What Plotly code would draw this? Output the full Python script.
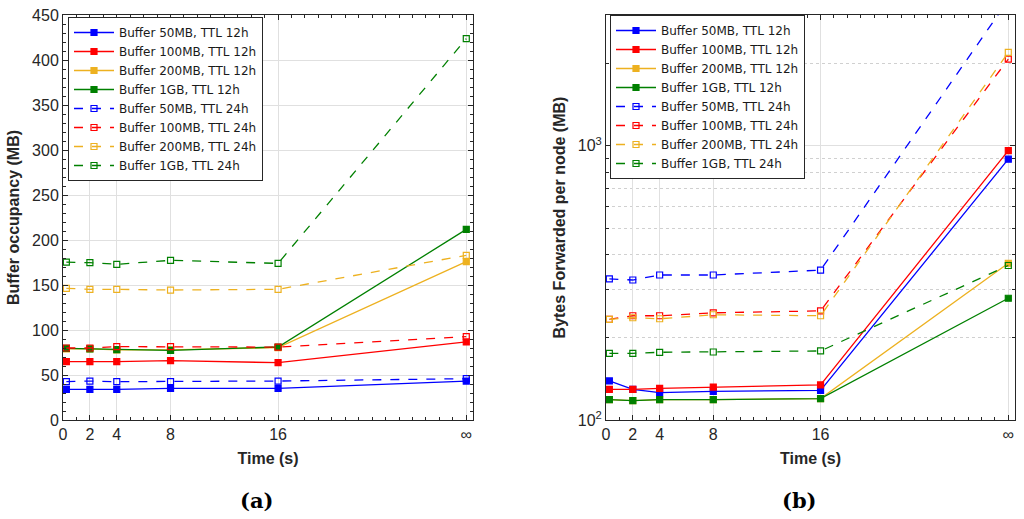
import plotly.graph_objects as go

# x positions (s); the last one stands for "infinity"
time_x = [0.25, 2, 4, 8, 16, 30]
tick_vals = [0, 2, 4, 8, 16, 30]
tick_text = ["0", "2", "4", "8", "16", "∞"]

names = [
    "Buffer 50MB, TTL 12h", "Buffer 100MB, TTL 12h", "Buffer 200MB, TTL 12h", "Buffer 1GB, TTL 12h",
    "Buffer 50MB, TTL 24h", "Buffer 100MB, TTL 24h", "Buffer 200MB, TTL 24h", "Buffer 1GB, TTL 24h",
]
colors = ["#0000FF", "#FF0000", "#EDB120", "#008000"] * 2

# (a) buffer occupancy (MB)
occ_50_12 = [34.1, 34.1, 34.1, 35.2, 35.2, 43.3]
occ_100_12 = [64.8, 64.8, 64.8, 65.9, 63.7, 86.7]
occ_200_12 = [79.0, 79.0, 78.0, 78.0, 80.5, 175.9]
occ_1g_12 = [79.6, 79.0, 78.1, 77.4, 81.1, 211.8]
occ_50_24 = [42.6, 43.3, 42.6, 42.6, 43.3, 45.9]
occ_100_24 = [80.0, 80.0, 81.5, 81.5, 81.0, 92.6]
occ_200_24 = [146.3, 145.2, 145.2, 144.4, 145.2, 183.0]
occ_1g_24 = [175.5, 174.8, 173.0, 177.4, 174.0, 423.7]

# (b) bytes forwarded per node (MB)
fwd_50_12 = [138.8, 129.4, 125.8, 127.2, 128.3, 894]
fwd_100_12 = [129.4, 129.4, 130.5, 131.9, 134.2, 961]
fwd_200_12 = [118.6, 117.6, 118.6, 118.6, 119.7, 373]
fwd_1g_12 = [118.6, 117.6, 118.6, 118.6, 119.7, 278]
fwd_50_24 = [327, 324, 338, 338, 352, 3400]
fwd_100_24 = [233, 240, 240, 246, 250, 2071]
fwd_200_24 = [233, 236, 234, 242, 240, 2190]
fwd_1g_24 = [175, 175, 176.6, 177, 178.6, 366]

occ = [occ_50_12, occ_100_12, occ_200_12, occ_1g_12, occ_50_24, occ_100_24, occ_200_24, occ_1g_24]
fwd = [fwd_50_12, fwd_100_12, fwd_200_12, fwd_1g_12, fwd_50_24, fwd_100_24, fwd_200_24, fwd_1g_24]

fig = go.Figure()

for i in range(8):
    dashed = i >= 4
    style = dict(
        mode="lines+markers",
        name=names[i],
        line=dict(color=colors[i], width=1.3, dash="dash" if dashed else "solid"),
        marker=dict(symbol="square-open" if dashed else "square", size=6, color=colors[i],
                    line=dict(color=colors[i], width=1.2)),
    )
    fig.add_trace(go.Scatter(x=time_x, y=occ[i], xaxis="x", yaxis="y", legend="legend", **style))
    fig.add_trace(go.Scatter(x=time_x, y=fwd[i], xaxis="x2", yaxis="y2", legend="legend2", **style))

axis_col = "#262626"
grid_col = "#E0E0E0"
tick_font = dict(family="Liberation Sans, Arial", size=16, color=axis_col)
title_font = dict(family="Liberation Sans, Arial", size=16, color=axis_col)

xcommon = dict(
    range=[0, 30.5], tickmode="array", tickvals=tick_vals, ticktext=tick_text,
    showline=True, mirror="allticks", linecolor=axis_col, linewidth=1,
    ticks="inside", ticklen=5, tickcolor=axis_col, automargin=False,
    showgrid=True, gridcolor=grid_col, gridwidth=1, zeroline=False,
    tickfont=tick_font,
    minor=dict(ticks="inside", ticklen=3, tickcolor=axis_col, dtick=1, tick0=0, showgrid=False),
    title=dict(text="<b>Time (s)</b>", font=title_font, standoff=10),
)

legend_common = dict(
    bgcolor="white", bordercolor=axis_col, borderwidth=1,
    font=dict(family="DejaVu Sans, Liberation Sans", size=12, color="#1a1a1a"),
    xanchor="left", yanchor="top", tracegroupgap=0, itemwidth=40,
)

serif = dict(family="DejaVu Serif, Liberation Serif", size=21, color="black")

fig.update_layout(
    width=1024, height=519,
    margin=dict(l=0, r=0, t=0, b=0),
    paper_bgcolor="white", plot_bgcolor="white",
    xaxis=dict(domain=[63 / 1024, 473 / 1024], anchor="y", **xcommon),
    xaxis2=dict(domain=[606 / 1024, 1015 / 1024], anchor="y2", **xcommon),
    yaxis=dict(
        domain=[1 - 420 / 519, 1 - 15 / 519], anchor="x", range=[0, 450], dtick=50,
        showline=True, mirror="allticks", linecolor=axis_col, linewidth=1,
        ticks="inside", ticklen=5, tickcolor=axis_col, automargin=False,
        showgrid=True, gridcolor=grid_col, zeroline=False, tickfont=tick_font,
        minor=dict(ticks="inside", ticklen=3, tickcolor=axis_col, dtick=10, showgrid=False),
        title=dict(text="<b>Buffer occupancy (MB)</b>", font=title_font, standoff=8),
    ),
    yaxis2=dict(
        domain=[1 - 420 / 519, 1 - 15 / 519], anchor="x2", type="log",
        range=[2, 3.4771], tickmode="array", tickvals=[100, 1000],
        ticktext=["10<sup>2</sup>", "10<sup>3</sup>"],
        showline=True, mirror="allticks", linecolor=axis_col, linewidth=1,
        ticks="inside", ticklen=5, tickcolor=axis_col, automargin=False,
        showgrid=True, gridcolor=grid_col, zeroline=False, tickfont=tick_font,
        minor=dict(ticks="inside", ticklen=3, tickcolor=axis_col, showgrid=True,
                   gridcolor="#D0D0D0", griddash="dot",
                   tickvals=[200, 300, 400, 500, 600, 700, 800, 900, 2000, 3000]),
        title=dict(text="<b>Bytes Forwarded per node (MB)</b>", font=title_font, standoff=8),
    ),
    legend=dict(x=68 / 1024, y=1 - 17 / 519, **legend_common),
    legend2=dict(x=610 / 1024, y=1 - 15 / 519, **legend_common),
    annotations=[
        dict(text="<b>(a)</b>", x=256 / 1024, y=1 - 500 / 519, xref="paper", yref="paper",
             xanchor="center", yanchor="middle", showarrow=False, font=serif),
        dict(text="<b>(b)</b>", x=799 / 1024, y=1 - 500 / 519, xref="paper", yref="paper",
             xanchor="center", yanchor="middle", showarrow=False, font=serif),
    ],
)

# the page body has a default 8px margin; drop it so the figure fills the window
fig.write_html("out.html", config={"displayModeBar": False},
               post_script="document.body.style.margin = '0';")
